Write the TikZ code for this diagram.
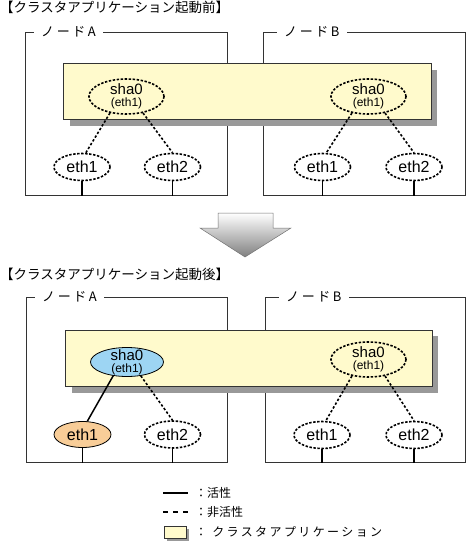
\documentclass[tikz,border=0pt]{standalone}
\usepackage{fontspec}
\setmainfont{Liberation Sans}
\newfontfamily\jpfont{Noto Sans CJK JP}
\newfontfamily\jpwide[LetterSpace=20]{Noto Sans CJK JP}
\usepackage{tikz}
\usetikzlibrary{positioning, shapes.geometric, calc}
\usepackage{xcolor}
\definecolor{appyellow}{HTML}{FFFACC}
\definecolor{shadowgray}{HTML}{999999}
\definecolor{activeblue}{HTML}{9DD5F3}
\definecolor{activeorange}{HTML}{F8CD98}
\newcommand{\shatext}{sha0\\[-3pt]{\fontsize{12}{12}\selectfont(eth1)}}

\begin{document}
\begin{tikzpicture}[x=1pt, y=-1pt,
  title/.style={anchor=west, inner sep=0pt, font=\jpfont\fontsize{13.5}{13.5}\selectfont},
  frame/.style={rectangle, draw=black!80, line width=0.8pt, anchor=north west, inner sep=0pt},
  framelabel/.style={anchor=west, fill=white, inner xsep=7pt, inner ysep=1pt, font=\jpwide\fontsize{13}{13}\selectfont},
  appbox/.style={draw=black!80, line width=0.8pt, fill=appyellow},
  shadowbox/.style={fill=shadowgray},
  shaoff/.style={ellipse, draw, line width=1.6pt, dash pattern=on 2.4pt off 1.6pt, minimum width=75pt, minimum height=35pt, inner xsep=0pt, inner ysep=-1pt, align=center, font=\fontsize{15}{15}\selectfont},
  shaon/.style={ellipse, draw, line width=0.8pt, fill=activeblue, minimum width=73pt, minimum height=29pt, inner xsep=0pt, inner ysep=-3pt, align=center, font=\fontsize{15}{15}\selectfont},
  ethoff/.style={ellipse, draw, line width=1.6pt, dash pattern=on 2.4pt off 1.6pt, minimum width=56pt, minimum height=27pt, inner sep=0pt, font=\fontsize{16}{16}\selectfont},
  ethon/.style={ellipse, draw, line width=0.8pt, fill=activeorange, minimum width=57pt, minimum height=26pt, inner sep=0pt, font=\fontsize{16}{16}\selectfont},
  uplink/.style={line width=1.5pt},
  downlink/.style={line width=1.6pt, dash pattern=on 2.4pt off 2pt},
  port/.style={line width=1.5pt},
  legendtext/.style={anchor=west, inner sep=0pt, font=\jpfont\fontsize{12}{12}\selectfont}
]
    \useasboundingbox (0,0) rectangle (467,541);

    % Before start
    \node[title] (bt) at (0,7.5) {【クラスタアプリケーション起動前】};

    \node[frame, minimum width=202pt, minimum height=163pt] (bnodeA) at (25,32) {};
    \node[frame, minimum width=202pt, minimum height=163pt] (bnodeB) at (263,32) {};
    \node[framelabel] (bnodeAl) at (34,32) {ノードA};
    \node[framelabel] (bnodeBl) at (277,32) {ノードB};

    \fill[shadowbox] (70,70) rectangle (437,126);
    \draw[appbox] (63,63) rectangle (431,119);

    \node[shaoff] (bshaA) at (126.5,96.5) {\shatext};
    \node[shaoff] (bshaB) at (368.5,96.5) {\shatext};
    \node[ethoff] (bethA1) at (82,167) {eth1};
    \node[ethoff] (bethA2) at (172.5,167) {eth2};
    \node[ethoff] (bethB1) at (322.5,167) {eth1};
    \node[ethoff] (bethB2) at (414,167) {eth2};

    \draw[downlink] (bshaA.225) -- (bethA1.75);
    \draw[downlink] (bshaA.315) -- (bethA2.north);
    \draw[downlink] (bshaB.225) -- (bethB1.75);
    \draw[downlink] (bshaB.315) -- (bethB2.north);

    \draw[port] (bethA1.south) -- (bethA1.south |- bnodeA.south);
    \draw[port] (bethA2.south) -- (bethA2.south |- bnodeA.south);
    \draw[port] (bethB1.south) -- (bethB1.south |- bnodeB.south);
    \draw[port] (bethB2.south) -- (bethB2.south |- bnodeB.south);

    % Arrow
    \shade[top color=white, bottom color=black!50, draw=black!55, line width=0.5pt]
      (218,213) -- (273,213) -- (273,228) -- (291,228) -- (245,257) -- (200,228) -- (218,228) -- cycle;

    % After start
    \node[title] (at) at (0,274) {【クラスタアプリケーション起動後】};

    \node[frame, minimum width=201pt, minimum height=165pt] (anodeA) at (26,297) {};
    \node[frame, minimum width=200pt, minimum height=165pt] (anodeB) at (265,297) {};
    \node[framelabel] (anodeAl) at (35,297) {ノードA};
    \node[framelabel] (anodeBl) at (279,297) {ノードB};

    \fill[shadowbox] (72,336) rectangle (438,393);
    \draw[appbox] (65,330) rectangle (432,386);

    \node[shaon] (ashaA) at (127,362) {\shatext};
    \node[shaoff] (ashaB) at (368.5,359.5) {\shatext};
    \node[ethon] (aethA1) at (82.5,434.5) {eth1};
    \node[ethoff] (aethA2) at (172.5,434.5) {eth2};
    \node[ethoff] (aethB1) at (322,435) {eth1};
    \node[ethoff] (aethB2) at (414,435) {eth2};

    \draw[uplink] (ashaA.225) -- (aethA1.70);
    \draw[downlink] (ashaA.315) -- (aethA2.north);
    \draw[downlink] (ashaB.225) -- (aethB1.75);
    \draw[downlink] (ashaB.315) -- (aethB2.north);

    \draw[port] (aethA1.south) -- (aethA1.south |- anodeA.south);
    \draw[port] (aethA2.south) -- (aethA2.south |- anodeA.south);
    \draw[port] (aethB1.south) -- (aethB1.south |- anodeB.south);
    \draw[port] (aethB2.south) -- (aethB2.south |- anodeB.south);

    % Legend
    \coordinate (l1a) at (163,493);
    \coordinate (l1b) at (188,493);
    \coordinate (l2a) at (163,512);
    \coordinate (l2b) at (188,512);
    \draw[line width=1.5pt] (l1a) -- (l1b);
    \draw[line width=1.5pt, dash pattern=on 5pt off 5pt] (l2a) -- (l2b);
    \fill[shadowbox] (167,529) rectangle (189,541);
    \draw[appbox] (164,526) rectangle (186,538);
    \node[legendtext] (lact) at (195,493) {：活性};
    \node[legendtext] (linact) at (195,512) {：非活性};
    \node[legendtext, font=\jpwide\fontsize{12}{12}\selectfont] (lapp) at (195,532) {： クラスタアプリケーション};

\end{tikzpicture}
\end{document}
